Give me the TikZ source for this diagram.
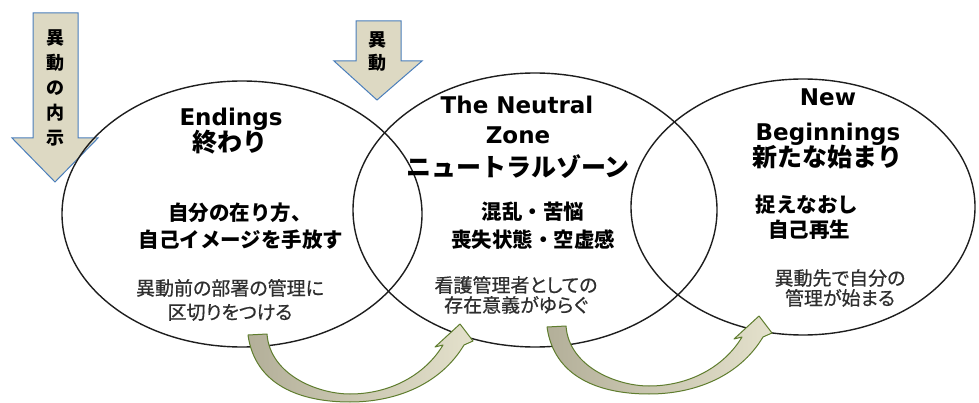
\documentclass[tikz,border=0pt]{standalone}
\usepackage{fontspec}
\newfontfamily\jp{Noto Sans CJK JP}
\newfontfamily\jpp[RawFeature=+palt, FakeBold=0.6]{Noto Sans CJK JP}
\newfontfamily\lat{DejaVu Sans}
\definecolor{ringc}{HTML}{1E1E1E}
\definecolor{tanc}{HTML}{DDD9C3}
\definecolor{bluec}{HTML}{4A7EBB}
\definecolor{olivec}{HTML}{5F7D2E}
\definecolor{benddark}{HTML}{B3AF99}
\definecolor{bendlight}{HTML}{E4E1CC}
\definecolor{smallc}{HTML}{2E2E2E}
\newcommand\bendarrowpath{(248,335) -- (267,334)
  .. controls (270,375) and (318,394) .. (350,394)
  .. controls (390,394) and (425,375) .. (443,345)
  -- (435,347) -- (460,324) -- (473,341) -- (464,345)
  .. controls (440,385) and (395,402) .. (350,402)
  .. controls (300,402) and (255,385) .. (248,335) -- cycle}
\begin{document}
\begin{tikzpicture}[x=1pt,y=-1pt,
  ring/.style={draw=ringc, line width=1.4pt},
  dropbox/.style={fill=tanc, draw=bluec, line width=1pt, line join=miter},
  bendbox/.style={left color=benddark, right color=bendlight, draw=olivec, line width=1pt, line join=round},
  latin/.style={font=\lat\bfseries\fontsize{23}{26}\selectfont, anchor=base, inner sep=0pt},
  jhead/.style={font=\jp\bfseries\fontsize{25}{28}\selectfont, anchor=base, inner sep=0pt},
  jbody/.style={font=\jp\bfseries\fontsize{20.5}{24}\selectfont, anchor=base, inner sep=0pt},
  jsmall/.style={font=\jpp\fontsize{19}{22}\selectfont, text=smallc, anchor=base, inner sep=0pt},
  droptext/.style={font=\jp\bfseries\fontsize{18}{25}\selectfont, align=center, inner sep=0pt}]
\useasboundingbox (0,0) rectangle (979,403);
\fill[white] (0,0) rectangle (979,403);

% top down-arrows
\draw[dropbox] (33,13) -- (78,13) -- (78,138) -- (98,138) -- (55,182) -- (12,138) -- (33,138) -- cycle;
\node[droptext] (notice) at (55,88) {異\\動\\の\\内\\示};
\draw[dropbox] (356,21) -- (401,21) -- (401,61) -- (422,61) -- (377,100) -- (334,61) -- (356,61) -- cycle;
\node[droptext, font=\jp\bfseries\fontsize{18}{23}\selectfont] (transfer) at (377,52) {異\\動};

% three ellipses
\draw[ring] (242,214) ellipse [x radius=180pt, y radius=133pt];
\draw[ring] (535,210) ellipse [x radius=182pt, y radius=137pt];
\draw[ring] (803,207) ellipse [x radius=172pt, y radius=128pt];

% Endings
\node[latin] (end1) at (231,125.4) {Endings};
\node[jhead] (end2) at (230,151.5) {終わり};
\node[jbody] (end3) at (240,220.8) {自分の在り方、};
\node[jbody] (end4) at (241,247.8) {自己イメージを手放す};
\node[jsmall] (end5) at (230,295.2) {異動前の部署の管理に};
\node[jsmall] (end6) at (230,319.2) {区切りをつける};

% Neutral zone
\node[latin] (neu1) at (517,113.4) {The Neutral};
\node[latin] (neu2) at (518,143.4) {Zone};
\node[jhead] (neu3) at (518,176.5) {ニュートラルゾーン};
\node[jbody] (neu4) at (533,219.8) {混乱・苦悩};
\node[jbody] (neu5) at (533,247.8) {喪失状態・空虚感};
\node[jsmall] (neu6) at (516,292.2) {看護管理者としての};
\node[jsmall] (neu7) at (516,312.2) {存在意義がゆらぐ};

% New beginnings
\node[latin] (new1) at (828,105.4) {New};
\node[latin] (new2) at (828,140.4) {Beginnings};
\node[jhead] (new3) at (827,166.5) {新たな始まり};
\node[jbody] (new4) at (807,212.8) {捉えなおし};
\node[jbody] (new5) at (809,237.8) {自己再生};
\node[jsmall] (new6) at (840,285.2) {異動先で自分の};
\node[jsmall] (new7) at (840,305.2) {管理が始まる};

% curved up-arrows
\shadedraw[bendbox] \bendarrowpath;
\begin{scope}[shift={(299,-8)}]
\shadedraw[bendbox] \bendarrowpath;
\end{scope}
\end{tikzpicture}
\end{document}
